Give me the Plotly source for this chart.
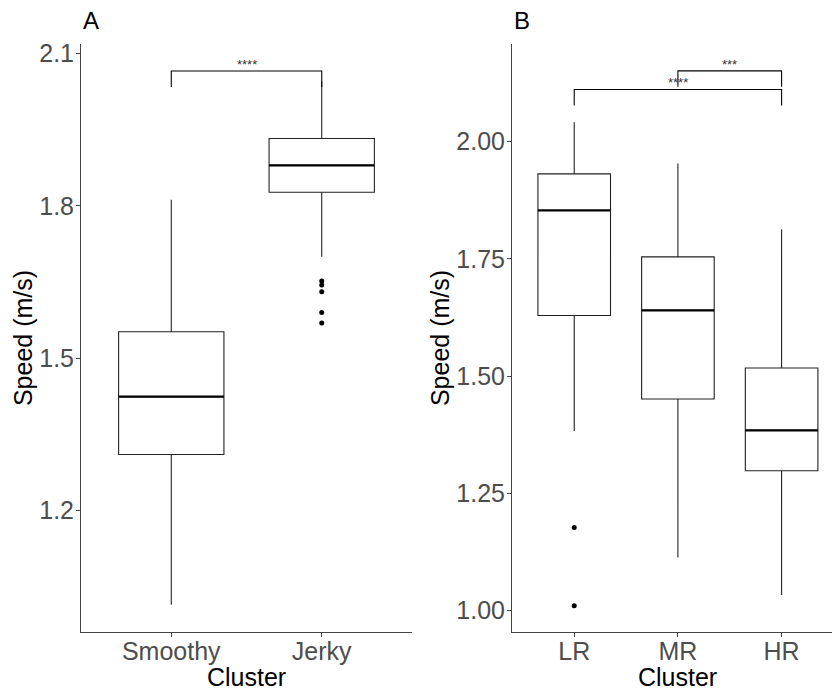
import plotly.graph_objects as go

# ---------------- data ----------------
a_categories = ["Smoothy", "Jerky"]
a_lower = [1.014, 1.700]
a_q1 = [1.310, 1.827]
a_median = [1.424, 1.880]
a_q3 = [1.552, 1.933]
a_upper = [1.812, 2.045]
a_outlier_cat = ["Jerky", "Jerky", "Jerky", "Jerky", "Jerky"]
a_outlier_val = [1.652, 1.644, 1.631, 1.590, 1.569]

b_categories = ["LR", "MR", "HR"]
b_lower = [1.383, 1.113, 1.033]
b_q1 = [1.629, 1.451, 1.298]
b_median = [1.853, 1.640, 1.384]
b_q3 = [1.931, 1.754, 1.517]
b_upper = [2.041, 1.953, 1.813]
b_outlier_cat = ["LR", "LR"]
b_outlier_val = [1.177, 1.010]

a_yticks = [1.2, 1.5, 1.8, 2.1]
b_yticks = [1.00, 1.25, 1.50, 1.75, 2.00]

# significance brackets: (group1, group2, y, tip, label)
a_brackets = [("Smoothy", "Jerky", 2.066, 0.0314, "****")]
b_brackets = [("LR", "HR", 2.111, 0.034, "****"),
              ("MR", "HR", 2.1505, 0.034, "***")]

FONT = "Liberation Sans, Arial, sans-serif"
BOXW = 0.70

fig = go.Figure()

def add_panel(cats, lo, q1, med, q3, hi, ocat, oval, xa, ya):
    fig.add_trace(go.Box(
        x=cats, q1=q1, median=med, q3=q3, lowerfence=lo, upperfence=hi,
        width=BOXW, whiskerwidth=0, boxpoints=False,
        line=dict(color="#222222", width=1.1), fillcolor="white",
        xaxis=xa, yaxis=ya, showlegend=False, hoverinfo="skip"))
    fig.add_trace(go.Scatter(
        x=ocat, y=oval, mode="markers",
        marker=dict(color="black", size=5),
        xaxis=xa, yaxis=ya, showlegend=False, hoverinfo="skip"))
    # thicker median lines (ggplot style)
    for i, m in enumerate(med):
        fig.add_shape(type="line", xref=xa, yref=ya,
                      x0=i - BOXW / 2, x1=i + BOXW / 2, y0=m, y1=m,
                      line=dict(color="black", width=2.2), layer="above")

add_panel(a_categories, a_lower, a_q1, a_median, a_q3, a_upper,
          a_outlier_cat, a_outlier_val, "x", "y")
add_panel(b_categories, b_lower, b_q1, b_median, b_q3, b_upper,
          b_outlier_cat, b_outlier_val, "x2", "y2")

def add_brackets(brackets, cats, xa, ya):
    for g1, g2, y, tip, lab in brackets:
        i1, i2 = cats.index(g1), cats.index(g2)
        fig.add_shape(type="path", xref=xa, yref=ya,
                      path=f"M {i1} {y - tip} L {i1} {y} L {i2} {y} L {i2} {y - tip}",
                      line=dict(color="black", width=1.1))
        fig.add_annotation(x=(i1 + i2) / 2, y=y, xref=xa, yref=ya,
                           text=lab, showarrow=False, yanchor="bottom",
                           font=dict(family=FONT, size=13, color="#333333"),
                           yshift=-3)

add_brackets(a_brackets, a_categories, "x", "y")
add_brackets(b_brackets, b_categories, "x2", "y2")

W, H = 832, 695
ydom = [63 / H, 655 / H]
axis_common = dict(showline=True, linecolor="#444444", linewidth=1,
                   ticks="outside", ticklen=4, tickcolor="#444444", tickwidth=1,
                   showgrid=False, zeroline=False,
                   tickfont=dict(family=FONT, size=25, color="#4D4D4D"))

fig.update_layout(
    width=W, height=H,
    margin=dict(l=0, r=0, t=0, b=0),
    paper_bgcolor="white", plot_bgcolor="white",
    xaxis=dict(domain=[81 / W, 412 / W], type="category",
               categoryorder="array", categoryarray=a_categories,
               range=[-0.6, 1.6], anchor="y", ticklabelstandoff=-7, **axis_common),
    yaxis=dict(domain=ydom, range=[0.9594, 2.1196], tickvals=a_yticks,
               tickformat=".1f", anchor="x", ticklabelstandoff=-3, **axis_common),
    xaxis2=dict(domain=[512 / W, 1.0], type="category",
                categoryorder="array", categoryarray=b_categories,
                range=[-0.6, 2.486], anchor="y2", ticklabelstandoff=-7, **axis_common),
    yaxis2=dict(domain=ydom, range=[0.9534, 2.2084], tickvals=b_yticks,
                tickformat=".2f", anchor="x2", ticklabelstandoff=-3, **axis_common),
)

def paper_ann(text, x, y, size, rot=0, xanchor="center", color="black"):
    fig.add_annotation(text=text, x=x / W, y=1 - y / H, xref="paper", yref="paper",
                       showarrow=False, textangle=rot, xanchor=xanchor,
                       yanchor="middle",
                       font=dict(family=FONT, size=size, color=color))

paper_ann("A", 81, 17, 24, xanchor="left")
paper_ann("B", 512, 17, 24, xanchor="left")
paper_ann("Speed (m/s)", 23, 336, 25, rot=-90)
paper_ann("Speed (m/s)", 440, 336, 25, rot=-90)
paper_ann("Cluster", 246.5, 677, 25)
paper_ann("Cluster", 677.4, 677, 25)

fig.write_html("out.html",
               config={"displayModeBar": False},
               post_script="document.body.style.margin='0';"
                           "document.body.style.overflow='hidden';")
